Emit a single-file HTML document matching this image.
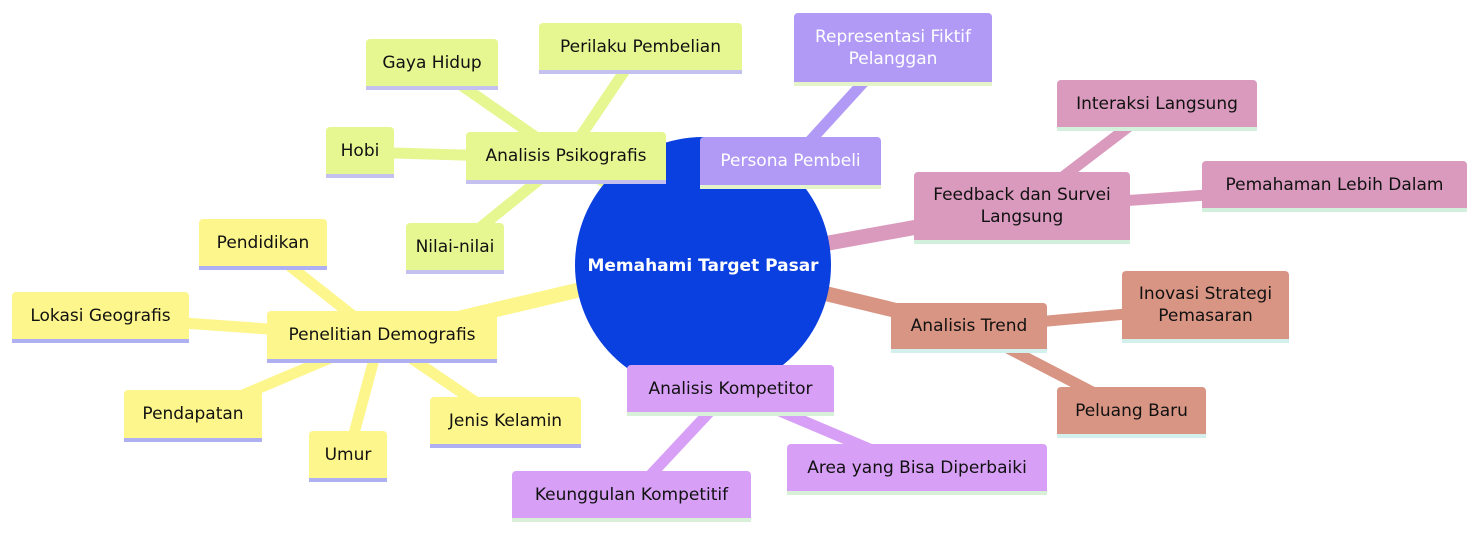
<!DOCTYPE html>
<html><head><style>
body{margin:0;width:1475px;height:534px;background:#fff;position:relative;overflow:hidden;font-family:"DejaVu Sans","Liberation Sans",sans-serif;}
.n{position:absolute;box-sizing:border-box;border-radius:4px 4px 0 0;display:flex;align-items:center;justify-content:center;text-align:center;font-size:17px;line-height:22px;color:#111;border-bottom:4px solid #aab0f0;white-space:nowrap;}
.y{background:#fdf68c;border-bottom-color:#aeb0f2}
.g{background:#e6f792;border-bottom-color:#c4c0f0}
.p{background:#b09af5;color:#fff;border-bottom-color:#e4f4c8}
.k{background:#d99abd;border-bottom-color:#d2f0dc}
.s{background:#d99584;border-bottom-color:#d4f0ec}
.l{background:#d7a0f6;border-bottom-color:#d8f0d8}
</style></head><body>
<svg width="1475" height="534" style="position:absolute;left:0;top:0">
<g stroke-linecap="round" fill="none">
<g stroke="#fdf68c">
<line x1="600" y1="285" x2="380" y2="337" stroke-width="15"/>
<line x1="380" y1="337" x2="263" y2="245" stroke-width="11"/>
<line x1="380" y1="337" x2="100" y2="317" stroke-width="11"/>
<line x1="380" y1="337" x2="193" y2="416" stroke-width="11"/>
<line x1="380" y1="337" x2="348" y2="456" stroke-width="11"/>
<line x1="380" y1="337" x2="505" y2="422" stroke-width="11"/>
</g>
<g stroke="#e6f792">
<line x1="640" y1="200" x2="566" y2="158" stroke-width="15"/>
<line x1="566" y1="158" x2="432" y2="65" stroke-width="11"/>
<line x1="566" y1="158" x2="640" y2="48" stroke-width="11"/>
<line x1="566" y1="158" x2="360" y2="152" stroke-width="11"/>
<line x1="566" y1="158" x2="455" y2="248" stroke-width="11"/>
</g>
<g stroke="#b09af5">
<line x1="790" y1="163" x2="893" y2="50" stroke-width="11"/>
</g>
<g stroke="#d99abd">
<line x1="790" y1="250" x2="1022" y2="208" stroke-width="15"/>
<line x1="1022" y1="208" x2="1157" y2="105" stroke-width="11"/>
<line x1="1022" y1="208" x2="1334" y2="186" stroke-width="11"/>
</g>
<g stroke="#d99584">
<line x1="790" y1="285" x2="969" y2="328" stroke-width="15"/>
<line x1="969" y1="328" x2="1205" y2="307" stroke-width="11"/>
<line x1="969" y1="328" x2="1131" y2="412" stroke-width="11"/>
</g>
<g stroke="#d7a0f6">
<line x1="730" y1="370" x2="730" y2="390" stroke-width="15"/>
<line x1="730" y1="390" x2="631" y2="496" stroke-width="11"/>
<line x1="730" y1="390" x2="917" y2="469" stroke-width="11"/>
</g>
</g>
<circle cx="703" cy="265" r="128" fill="#0a3fe0"/>
<text x="703" y="271" fill="#fff" font-family="DejaVu Sans, sans-serif" font-size="17" font-weight="bold" text-anchor="middle">Memahami Target Pasar</text>
</svg>
<div class="n y" style="left:267px;top:311px;width:230px;height:52px">Penelitian Demografis</div>
<div class="n y" style="left:199px;top:219px;width:128px;height:51px">Pendidikan</div>
<div class="n y" style="left:12px;top:292px;width:177px;height:51px">Lokasi Geografis</div>
<div class="n y" style="left:124px;top:390px;width:138px;height:52px">Pendapatan</div>
<div class="n y" style="left:309px;top:431px;width:78px;height:51px">Umur</div>
<div class="n y" style="left:430px;top:397px;width:151px;height:51px">Jenis Kelamin</div>
<div class="n g" style="left:466px;top:132px;width:200px;height:52px">Analisis Psikografis</div>
<div class="n g" style="left:366px;top:39px;width:132px;height:51px">Gaya Hidup</div>
<div class="n g" style="left:539px;top:23px;width:203px;height:51px">Perilaku Pembelian</div>
<div class="n g" style="left:326px;top:127px;width:68px;height:51px">Hobi</div>
<div class="n g" style="left:406px;top:223px;width:98px;height:51px">Nilai-nilai</div>
<div class="n p" style="left:700px;top:137px;width:181px;height:52px">Persona Pembeli</div>
<div class="n p" style="left:794px;top:13px;width:198px;height:73px">Representasi Fiktif<br>Pelanggan</div>
<div class="n k" style="left:914px;top:172px;width:216px;height:72px">Feedback dan Survei<br>Langsung</div>
<div class="n k" style="left:1057px;top:80px;width:200px;height:51px">Interaksi Langsung</div>
<div class="n k" style="left:1202px;top:161px;width:265px;height:51px">Pemahaman Lebih Dalam</div>
<div class="n s" style="left:891px;top:303px;width:156px;height:50px">Analisis Trend</div>
<div class="n s" style="left:1122px;top:271px;width:167px;height:72px">Inovasi Strategi<br>Pemasaran</div>
<div class="n s" style="left:1057px;top:387px;width:149px;height:51px">Peluang Baru</div>
<div class="n l" style="left:627px;top:365px;width:207px;height:51px">Analisis Kompetitor</div>
<div class="n l" style="left:512px;top:471px;width:239px;height:51px">Keunggulan Kompetitif</div>
<div class="n l" style="left:787px;top:444px;width:260px;height:51px">Area yang Bisa Diperbaiki</div>
</body></html>
